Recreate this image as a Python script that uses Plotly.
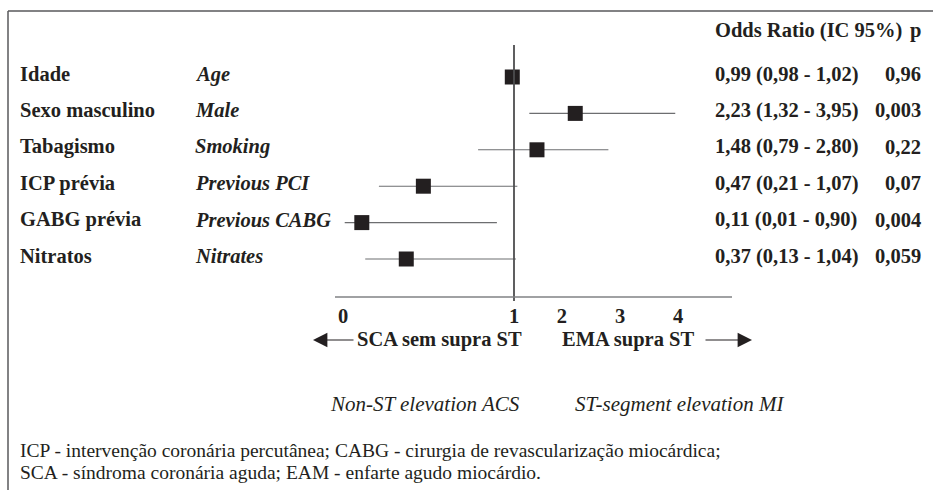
import numpy as np
import plotly.graph_objects as go

# ---------------- data ----------------
LABELS_PT = ["Idade", "Sexo masculino", "Tabagismo", "ICP prévia", "GABG prévia", "Nitratos"]
LABELS_EN = ["Age", "Male", "Smoking", "Previous PCI", "Previous CABG", "Nitrates"]
ODDS_RATIO = [0.99, 2.23, 1.48, 0.47, 0.11, 0.37]
CI_LOW = [0.98, 1.32, 0.79, 0.21, 0.01, 0.13]
CI_HIGH = [1.02, 3.95, 2.80, 1.07, 0.90, 1.04]
P_VALUES = ["0,96", "0,003", "0,22", "0,07", "0,004", "0,059"]
TICK_VALUES = [0, 1, 2, 3, 4]
TICK_LABELS = ["0", "1", "2", "3", "4"]

# custom (compressed above 1) odds-ratio scale of the original figure
SCALE_UNITS = [0, 1, 1.28, 1.62, 1.96]


def scale(v):
    return np.interp(np.asarray(v, dtype=float), TICK_VALUES, SCALE_UNITS)


def fmt(v):
    return f"{v:.2f}".replace(".", ",")


W, H = 933, 490
FONT = "Liberation Serif"
INK = "#231f20"
BOLD = 20.5
rows = np.arange(len(LABELS_PT))


def px(x):
    return x / W


def py(y):
    return 1 - y / H


fig = go.Figure()

or_s = scale(ODDS_RATIO)
lo_s = scale(CI_LOW)
hi_s = scale(CI_HIGH)

fig.add_trace(go.Scatter(
    x=or_s, y=rows, mode="markers",
    marker=dict(symbol="square", size=15, color=INK, line=dict(width=0)),
    error_x=dict(type="data", symmetric=False, array=hi_s - or_s,
                 arrayminus=or_s - lo_s, color="#6d6e70", thickness=1.1, width=0),
    showlegend=False, hoverinfo="skip",
))

ann = []


def text(x, y, s, size=BOLD, anchor="left", yref="paper", color=INK, yshift=0):
    ann.append(dict(x=x, y=y, xref="paper", yref=yref, text=s, showarrow=False,
                    xanchor=anchor, yanchor="middle", yshift=yshift,
                    font=dict(family=FONT, size=size, color=color)))


for i in range(len(LABELS_PT)):
    text(px(18), i, f"<b>{LABELS_PT[i]}</b>", yref="y", yshift=3)
    text(px(193), i, f"<b><i>{LABELS_EN[i]}</i></b>", yref="y", yshift=3)
    text(px(713), i, f"<b>{fmt(ODDS_RATIO[i])} ({fmt(CI_LOW[i])} - {fmt(CI_HIGH[i])})</b>",
         yref="y", yshift=3)
    text(px(923), i, f"<b>{P_VALUES[i]}</b>", anchor="right", yref="y", yshift=3)

text(px(713), py(31), "<b>Odds Ratio (IC 95%)</b>")
text(px(923), py(31), "<b>p</b>", anchor="right")

text(px(355), py(339), "<b>SCA sem supra ST</b>")
text(px(696), py(339), "<b>EMA supra ST</b>", anchor="right")
text(px(328), py(404), "<i>Non-ST elevation ACS</i>", size=21)
text(px(573), py(404), "<i>ST-segment elevation MI</i>", size=21)

text(px(18), py(450), "ICP - intervenção coronária percutânea; CABG - cirurgia de revascularização miocárdica;", size=19.5)
text(px(18), py(472), "SCA - síndroma coronária aguda; EAM - enfarte agudo miocárdio.", size=19.5)

# arrows
ann.append(dict(x=px(313), y=py(340), xref="paper", yref="paper", ax=42, ay=0,
                showarrow=True, arrowhead=2, arrowsize=2.4, arrowwidth=1.2,
                arrowcolor=INK, text=""))
ann.append(dict(x=px(752), y=py(340), xref="paper", yref="paper", ax=-48, ay=0,
                showarrow=True, arrowhead=2, arrowsize=2.4, arrowwidth=1.2,
                arrowcolor=INK, text=""))

shapes = [
    # reference line at OR = 1
    dict(type="line", xref="x", yref="paper", x0=float(scale(1)), x1=float(scale(1)),
         y0=py(45), y1=py(301), line=dict(color="#4d4d4f", width=1.8)),
    # baseline
    dict(type="line", xref="paper", yref="paper", x0=px(335), x1=px(732),
         y0=py(297), y1=py(297), line=dict(color="#808285", width=1.3)),
    # frame
    dict(type="line", xref="paper", yref="paper", x0=px(8), x1=px(8),
         y0=0, y1=py(11), line=dict(color="#58595b", width=1.5)),
    dict(type="line", xref="paper", yref="paper", x0=px(8), x1=1,
         y0=py(11), y1=py(11), line=dict(color="#58595b", width=1.5)),
]

fig.update_layout(
    width=W, height=H,
    margin=dict(l=0, r=0, t=0, b=0),
    paper_bgcolor="white", plot_bgcolor="white",
    annotations=ann, shapes=shapes,
    xaxis=dict(range=[-343 / 171, (W - 343) / 171], showgrid=False, zeroline=False,
               showline=False, tickvals=list(scale(TICK_VALUES)),
               ticktext=[f"<b>{t}</b>" for t in TICK_LABELS], ticks="",
               anchor="free", position=py(297), ticklabelstandoff=4,
               tickfont=dict(family=FONT, size=BOLD, color=INK), fixedrange=True),
    yaxis=dict(range=[(H - 77) / 36.4, -77 / 36.4], visible=False, fixedrange=True),
)

fig.write_html("out.html", config={"displayModeBar": False},
               post_script="document.body.style.margin='0';document.body.style.overflow='hidden';")
